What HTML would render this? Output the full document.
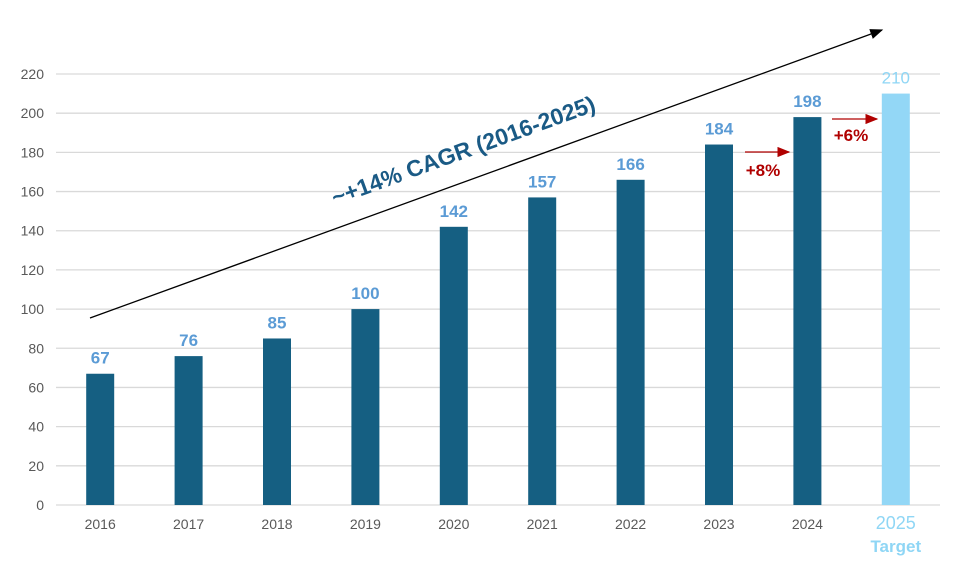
<!DOCTYPE html>
<html><head><meta charset="utf-8"><style>
body{margin:0;background:#fff;}
svg{display:block;font-family:"Liberation Sans",Arial,sans-serif;}
</style></head><body>
<svg id="chart" width="966" height="561">
<defs>
<marker id="ah" markerWidth="10" markerHeight="8" refX="9" refY="4" orient="auto"><path d="M0,0 L10,4 L0,8 z" fill="#000"/></marker>
<marker id="ahr" markerWidth="10" markerHeight="8" refX="9" refY="4" orient="auto"><path d="M0,0 L10,4 L0,8 z" fill="#b00000"/></marker>
</defs>
<g id="grid"></g><g id="bars"></g><g id="labels"></g>
<line x1="90" y1="318" x2="882" y2="30" stroke="#000" stroke-width="1.3" marker-end="url(#ah)"/>
<text x="466" y="158" transform="rotate(-20 466 158)" text-anchor="middle" font-size="23" font-weight="bold" fill="#1a5a85">~+14% CAGR (2016-2025)</text>
<line x1="745" y1="152" x2="789" y2="152" stroke="#b00000" stroke-width="1.3" marker-end="url(#ahr)"/>
<text x="763" y="176" text-anchor="middle" font-size="17" font-weight="bold" fill="#b00000">+8%</text>
<line x1="832" y1="119" x2="877" y2="119" stroke="#b00000" stroke-width="1.3" marker-end="url(#ahr)"/>
<text x="851" y="141" text-anchor="middle" font-size="17" font-weight="bold" fill="#b00000">+6%</text>
</svg>
<script>
const categories=["2016","2017","2018","2019","2020","2021","2022","2023","2024","2025"];
const values=[67,76,85,100,142,157,166,184,198,210];
const yTicks=[0,20,40,60,80,100,120,140,160,180,200,220];
const NS="http://www.w3.org/2000/svg";
const x0=56,x1=940,yBase=505,yTop=74,yMax=220;
const band=(x1-x0)/categories.length;
function xc(i){return x0+band*(i+0.5);}
function y(v){return yBase-(v/yMax)*(yBase-yTop);}
function mk(t,a,p){const e=document.createElementNS(NS,t);for(const k in a)e.setAttribute(k,a[k]);p.appendChild(e);return e;}
const g=document.getElementById('grid'),b=document.getElementById('bars'),l=document.getElementById('labels');
yTicks.forEach(t=>{
 const ln=mk('line',{x1:x0,x2:x1,y1:y(t),y2:y(t),stroke:'#d9d9d9','stroke-width':1.3},g);
 
 
 const tx=mk('text',{x:44,y:y(t)+5,'text-anchor':'end','font-size':14,fill:'#595959'},g);
 tx.textContent=t;
 
 
});
categories.forEach((c,i)=>{
 const last=i===categories.length-1;
 const r=mk('rect',{x:xc(i)-14,y:y(values[i]),width:28,height:yBase-y(values[i]),fill:last?'#93d7f6':'#155f82'},b);
 
 
 const v=mk('text',{x:xc(i),y:y(values[i])-10,'text-anchor':'middle','font-size':17,'font-weight':last?'normal':'bold',fill:last?'#8fd6f5':'#5b9bd5'},l);
 v.textContent=values[i];
 
 
 const xt=mk('text',{x:xc(i),y:last?529:529,'text-anchor':'middle','font-size':last?18:14,fill:last?'#8fd6f5':'#595959'},l);
 xt.textContent=c;
 
 
 if(last){
  const tg=mk('text',{x:xc(i),y:552,'text-anchor':'middle','font-size':17,'font-weight':'bold',fill:'#8fd6f5'},l);
  tg.textContent='Target';
  
  
 }
});
</script>
</body></html>
